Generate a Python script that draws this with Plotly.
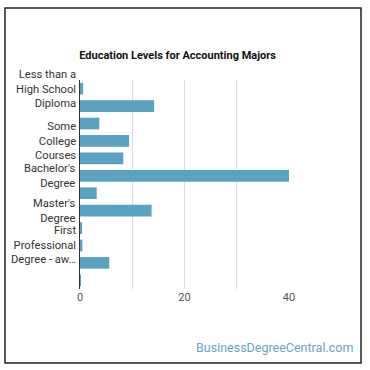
import plotly.graph_objects as go

categories = [
    "Less than a High School Diploma",
    "High School Diploma",
    "Post-Secondary Certificate",
    "Some College Courses",
    "Associate's Degree",
    "Bachelor's Degree",
    "Post-Baccalaureate Certificate",
    "Master's Degree",
    "Post-Master's Certificate",
    "First Professional Degree - awarded for completion of a program",
    "Doctoral Degree",
    "Post-Doctoral Training",
]
values = [0.6, 14.2, 3.7, 9.4, 8.3, 40.0, 3.2, 13.7, 0.2, 0.45, 5.6, 0.1]
tick_labels = [
    "Less than a<br>High School<br>Diploma",
    "",
    "",
    "Some<br>College<br>Courses",
    "",
    "Bachelor's<br>Degree",
    "",
    "Master's<br>Degree",
    "",
    "First<br>Professional<br>Degree - aw…",
    "",
    "",
]
x_tick_vals = [0, 20, 40]

fig = go.Figure(
    go.Bar(
        x=values,
        y=categories,
        orientation="h",
        marker=dict(color="#5aa2c0", line=dict(width=0)),
    )
)

fig.update_layout(
    width=370,
    height=370,
    margin=dict(l=80, r=81, t=80, b=81, autoexpand=False),
    paper_bgcolor="white",
    plot_bgcolor="white",
    bargap=0.33,
    showlegend=False,
    font=dict(family="Roboto", size=11, color="#333"),
    title=dict(
        text="<b>Education Levels for Accounting Majors</b>",
        x=0.48,
        xanchor="center",
        y=1 - 55 / 370,
        yanchor="middle",
        font=dict(family="Roboto", size=11, color="#111"),
    ),
    xaxis=dict(
        range=[0, 40],
        tickvals=x_tick_vals,
        ticktext=[str(v) for v in x_tick_vals],
        showgrid=True,
        gridcolor="#dcdcdc",
        gridwidth=1,
        minor=dict(dtick=10, showgrid=True, gridcolor="#dcdcdc", gridwidth=1),
        zeroline=False,
        showline=False,
        ticks="",
        tickfont=dict(size=11, color="#555"),
        fixedrange=True,
    ),
    yaxis=dict(
        categoryorder="array",
        categoryarray=categories,
        range=[len(categories) - 0.5, -0.5],
        showticklabels=False,
        showline=True,
        linecolor="#333",
        linewidth=1,
        showgrid=False,
        ticks="",
    ),
)

# category labels, right-aligned against the axis
for cat, lab in zip(categories, tick_labels):
    if lab:
        fig.add_annotation(
            text=lab,
            xref="paper",
            yref="y",
            x=0,
            y=cat,
            xanchor="right",
            yanchor="middle",
            xshift=-2,
            align="right",
            showarrow=False,
            font=dict(family="Roboto", size=11.2, color="#333"),
        )

# outer border of the card
fig.add_shape(
    type="rect",
    xref="paper",
    yref="paper",
    x0=(5 - 80) / 209,
    x1=(361 - 80) / 209,
    y0=(289 - 363) / 209,
    y1=(289 - 8) / 209,
    line=dict(color="#222", width=1.5),
    fillcolor="rgba(0,0,0,0)",
    layer="below",
)

fig.add_annotation(
    text="BusinessDegreeCentral.com",
    xref="paper",
    yref="paper",
    x=(355 - 80) / 209,
    y=(289 - 347) / 209,
    xanchor="right",
    yanchor="middle",
    showarrow=False,
    font=dict(family="Roboto", size=12.5, color="#6aa3c8"),
)

fig.write_html("out.html")
